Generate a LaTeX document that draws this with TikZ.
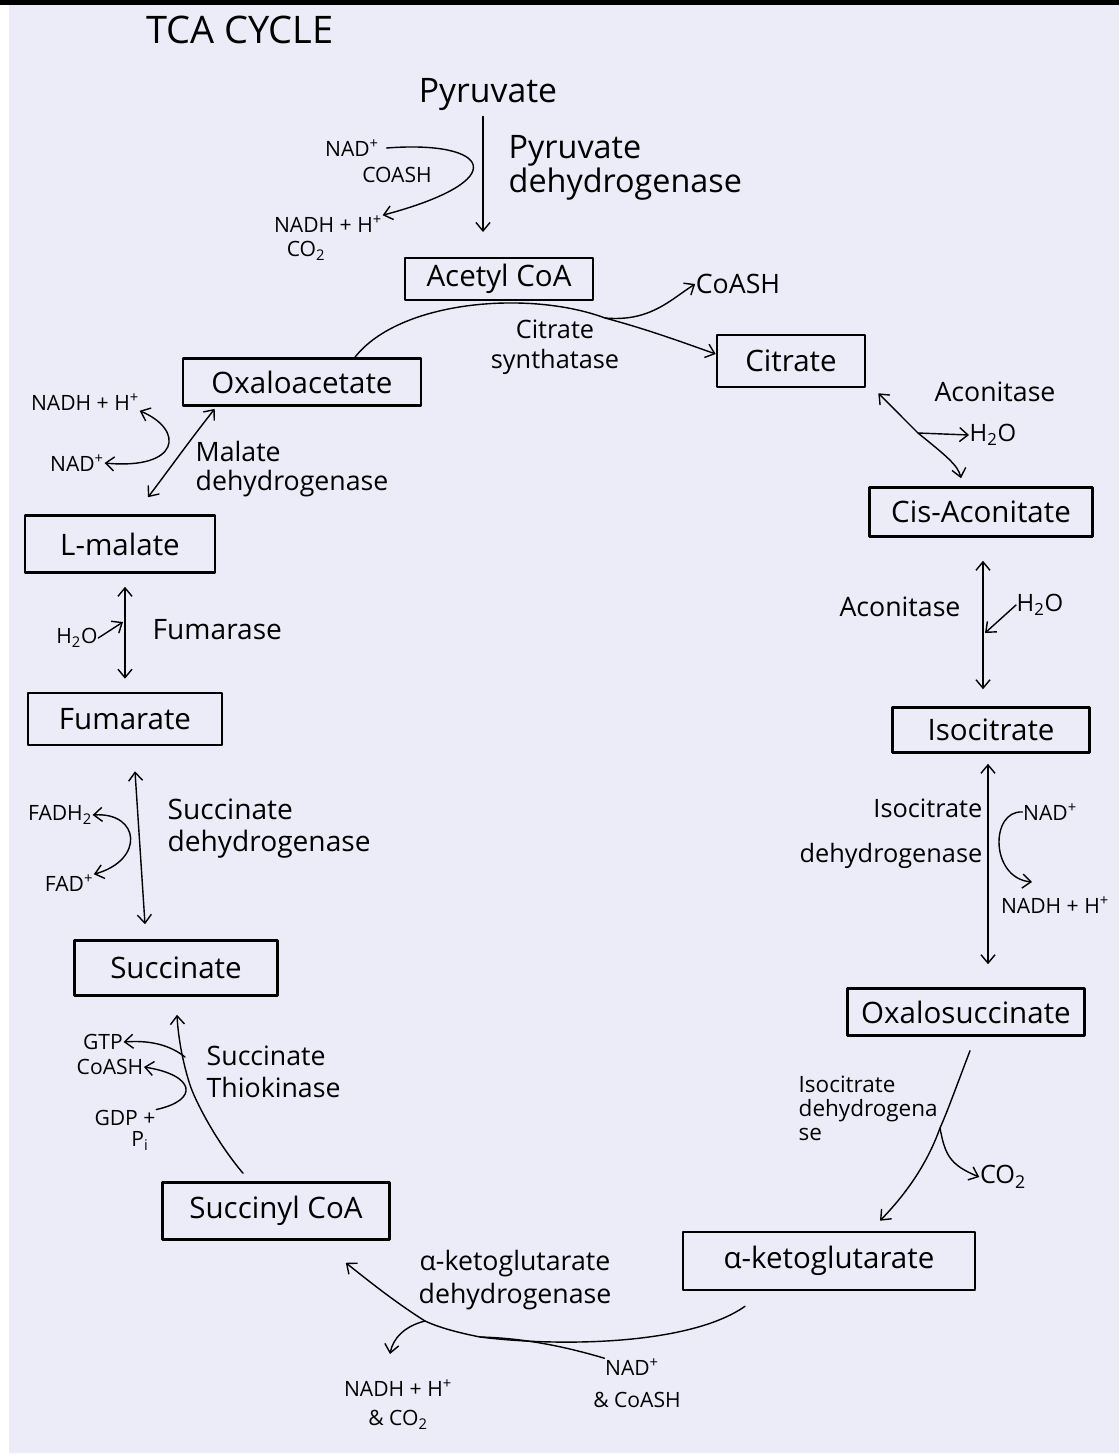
\documentclass[tikz,border=0pt]{standalone}
\usepackage{fontspec}
\setmainfont{Open Sans}
\usetikzlibrary{arrows.meta,calc}
\definecolor{paper}{RGB}{236,236,248}
\begin{document}
\begin{tikzpicture}[x=0.025cm, y=-0.025cm, line join=round, line cap=round, line width=1pt, >={Straight Barb[length=6pt,width=10pt]},
		met/.style={draw, line width=1.8pt, inner sep=0pt, font=\fontsize{21}{25}\selectfont},
		enz/.style={align=left, inner sep=0pt, font=\fontsize{19}{23}\selectfont},
		cof/.style={inner sep=0pt, font=\fontsize{15}{18}\selectfont}]
	\useasboundingbox (0,0) rectangle (1119,1455);
	\fill[paper] (9,5) rectangle (1119,1453);
	\fill[black] (0,0) rectangle (1119,5);
	
	\node[font=\fontsize{27}{30}\selectfont] (title) at (240,30) {TCA CYCLE};
	
	\node[font=\fontsize{24}{28}\selectfont] (pyr) at (488,95) {Pyruvate};
	\node[enz, font=\fontsize{23}{24}\selectfont, anchor=west] (pdh) at (508,168) {Pyruvate\\dehydrogenase};
	\node[cof] (nadA) at (352,148) {NAD\textsuperscript{+}};
	\node[cof] (coashA) at (397,175) {COASH};
	\node[cof] (nadhA) at (328,224) {NADH + H\textsuperscript{+}};
	\node[cof] (co2A) at (306,251) {CO\textsubscript{2}};
	
	\node[met, minimum width=4.7cm, minimum height=1.05cm] (acoa) at (499,279) {Acetyl CoA};
	\node[met, minimum width=3.7cm, minimum height=1.3cm] (cit) at (791,361) {Citrate};
	\node[met, minimum width=5.95cm, minimum height=1.18cm] (oxalo) at (302,382) {Oxaloacetate};
	\node[met, minimum width=5.575cm, minimum height=1.225cm] (cisacon) at (981,512) {Cis-Aconitate};
	\node[met, minimum width=4.925cm, minimum height=1.125cm] (isocit) at (991,730) {Isocitrate};
	\node[met, minimum width=5.925cm, minimum height=1.175cm] (oxsucc) at (966,1012) {Oxalosuccinate};
	\node[met, minimum width=7.3cm, minimum height=1.45cm] (akg) at (829,1261) {α-ketoglutarate};
	\node[met, minimum width=5.675cm, minimum height=1.425cm] (succoa) at (276,1211) {Succinyl CoA};
	\node[met, minimum width=5.075cm, minimum height=1.375cm] (succ) at (176,968) {Succinate};
	\node[met, minimum width=4.85cm, minimum height=1.3cm] (fum) at (125,719) {Fumarate};
	\node[met, minimum width=4.75cm, minimum height=1.425cm] (lmal) at (120,544) {L-malate};
	
	\node[enz, align=center, font=\fontsize{18}{21}\selectfont] (cs) at (555,347) {Citrate\\synthatase};
	\node[enz, font=\fontsize{19}{22}\selectfont] (coashB) at (738,284) {CoASH};
	\node[enz] (acon1) at (995,392) {Aconitase};
	\node[enz, font=\fontsize{17}{20}\selectfont] (h2oA) at (993,435) {H\textsubscript{2}O};
	\node[enz] (acon2) at (900,607) {Aconitase};
	\node[enz, font=\fontsize{17}{20}\selectfont] (h2oB) at (1040,605) {H\textsubscript{2}O};
	\node[enz, align=right, font=\fontsize{18}{32}\selectfont, anchor=east] (idh) at (983,834) {Isocitrate\\dehydrogenase};
	\node[cof] (nadB) at (1050,812) {NAD\textsuperscript{+}};
	\node[cof] (nadhB) at (1055,905) {NADH + H\textsuperscript{+}};
	\node[enz, font=\fontsize{16}{17}\selectfont, anchor=north west] (idh2) at (798,1075) {Isocitrate\\dehydrogena\\se};
	\node[enz, font=\fontsize{18}{20}\selectfont] (co2B) at (1003,1177) {CO\textsubscript{2}};
	\node[enz, align=center] (kgdh) at (515,1280) {α-ketoglutarate\\dehydrogenase};
	\node[cof] (nadC) at (632,1367) {NAD\textsuperscript{+}};
	\node[cof] (coashC) at (637,1400) {\& CoASH};
	\node[cof] (nadhC) at (398,1388) {NADH + H\textsuperscript{+}};
	\node[cof] (co2C) at (398,1420) {\& CO\textsubscript{2}};
	\node[enz, anchor=north west] (stk) at (206,1045) {Succinate\\Thiokinase};
	\node[cof] (gtp) at (103,1042) {GTP};
	\node[cof] (coashD) at (110,1067) {CoASH};
	\node[cof] (gdp) at (125,1118) {GDP +};
	\node[cof] (pi) at (140,1141) {P\textsubscript{i}};
	\node[enz, font=\fontsize{20}{23}\selectfont, anchor=north west] (sdh) at (167,798) {Succinate\\dehydrogenase};
	\node[cof] (fadh) at (60,815) {FADH\textsubscript{2}};
	\node[cof] (fad) at (69,883) {FAD\textsuperscript{+}};
	\node[enz, font=\fontsize{20}{23}\selectfont, anchor=west] (fumase) at (152,630) {Fumarase};
	\node[cof] (h2oC) at (77,638) {H\textsubscript{2}O};
	\node[enz, font=\fontsize{19}{21}\selectfont, anchor=north west] (mdh) at (195,440) {Malate\\dehydrogenase};
	\node[cof] (nadhD) at (85,402) {NADH + H\textsuperscript{+}};
	\node[cof] (nadD) at (77,463) {NAD\textsuperscript{+}};
	
	\path (483,232) coordinate (p1)
		(605,318) coordinate (s1)
		(918,433) coordinate (a1)
		(985,633) coordinate (a2)
		(1032,882) coordinate (i1)
		(940,1128) coordinate (o1)
		(480,1337) coordinate (k1)
		(425,1321) coordinate (k2)
		(390,1354) coordinate (k3)
		(190,1085) coordinate (t1)
		(123,622) coordinate (f1);
	
	\draw[->] (pyr.south -| p1) -- (p1);
	\draw[->] ([xshift=5pt]nadA.east) .. controls (490,140) and (515,180) .. (nadhA.north east);
	\draw[->] ($(oxalo.north)+(53,0)$) .. controls (400,300) and (530,290) .. (s1) .. controls (650,330) and (690,345) .. ($(cit.west)+(0,-7)$);
	\draw[->] (s1) .. controls (650,322) and (670,300) .. (coashB.west);
	\draw[<->] ($(cit.south east)+(12,5)$) -- (a1) .. controls (945,455) and (958,465) .. ($(cisacon.north)+(-20,-8)$);
	\draw[->] (a1) -- (h2oA.west);
	\draw[<->] ($(cisacon.south)+(2,23)$) -- ($(isocit.north)+(-8,-17)$);
	\draw[->] (h2oB.west) -- (a2);
	\draw[<->] ($(isocit.south)+(-3,10)$) -- ($(oxsucc.north)+(22,-23)$);
	\draw[->] (nadB.west) .. controls (990,810) and (990,878) .. (i1);
	\draw[->] ($(oxsucc.south)+(4,14)$) .. controls (955,1090) and (948,1110) .. (o1) .. controls (925,1170) and (900,1200) .. ($(akg.north)+(51,-10)$);
	\draw[->] (o1) .. controls (945,1155) and (950,1165) .. (co2B.west);
	\draw[->] ($(akg.south)+(-84,15)$) .. controls (690,1345) and (560,1347) .. (k1) .. controls (460,1333) and (440,1328) .. (k2) .. controls (395,1302) and (370,1282) .. ($(succoa.south east)+(-45,22)$);
	\draw (nadC.north west) .. controls (560,1345) and (520,1338) .. (k1);
	\draw[->] (k2) .. controls (405,1326) and (393,1338) .. (k3);
	\draw[->] ($(succoa.north)+(-33,-8)$) .. controls (215,1140) and (195,1100) .. (t1) .. controls (182,1060) and (178,1035) .. ($(succ.south)+(1,18)$);
	\draw[->] (gdp.north east) .. controls (200,1100) and (195,1075) .. (coashD.east);
	\draw[->] ($(t1)+(-5,-28)$) .. controls (170,1045) and (150,1040) .. (gtp.east);
	\draw[<->] ($(fum.south)+(10,25)$) -- ($(succ.north)+(-31,-15)$);
	\draw[<->] (fadh.east) .. controls (140,812) and (145,860) .. (fad.north east);
	\draw[<->] ($(lmal.south)+(5,13)$) -- ($(fum.north)+(0,-13)$);
	\draw[->] (h2oC.east) -- (f1);
	\draw[<->] ($(oxalo.south west)+(33,2)$) .. controls (190,440) and (165,475) .. ($(lmal.north)+(28,-17)$);
	\draw[<->] (nadhD.south east) .. controls (185,430) and (180,470) .. (nadD.east);
\end{tikzpicture}
\end{document}
